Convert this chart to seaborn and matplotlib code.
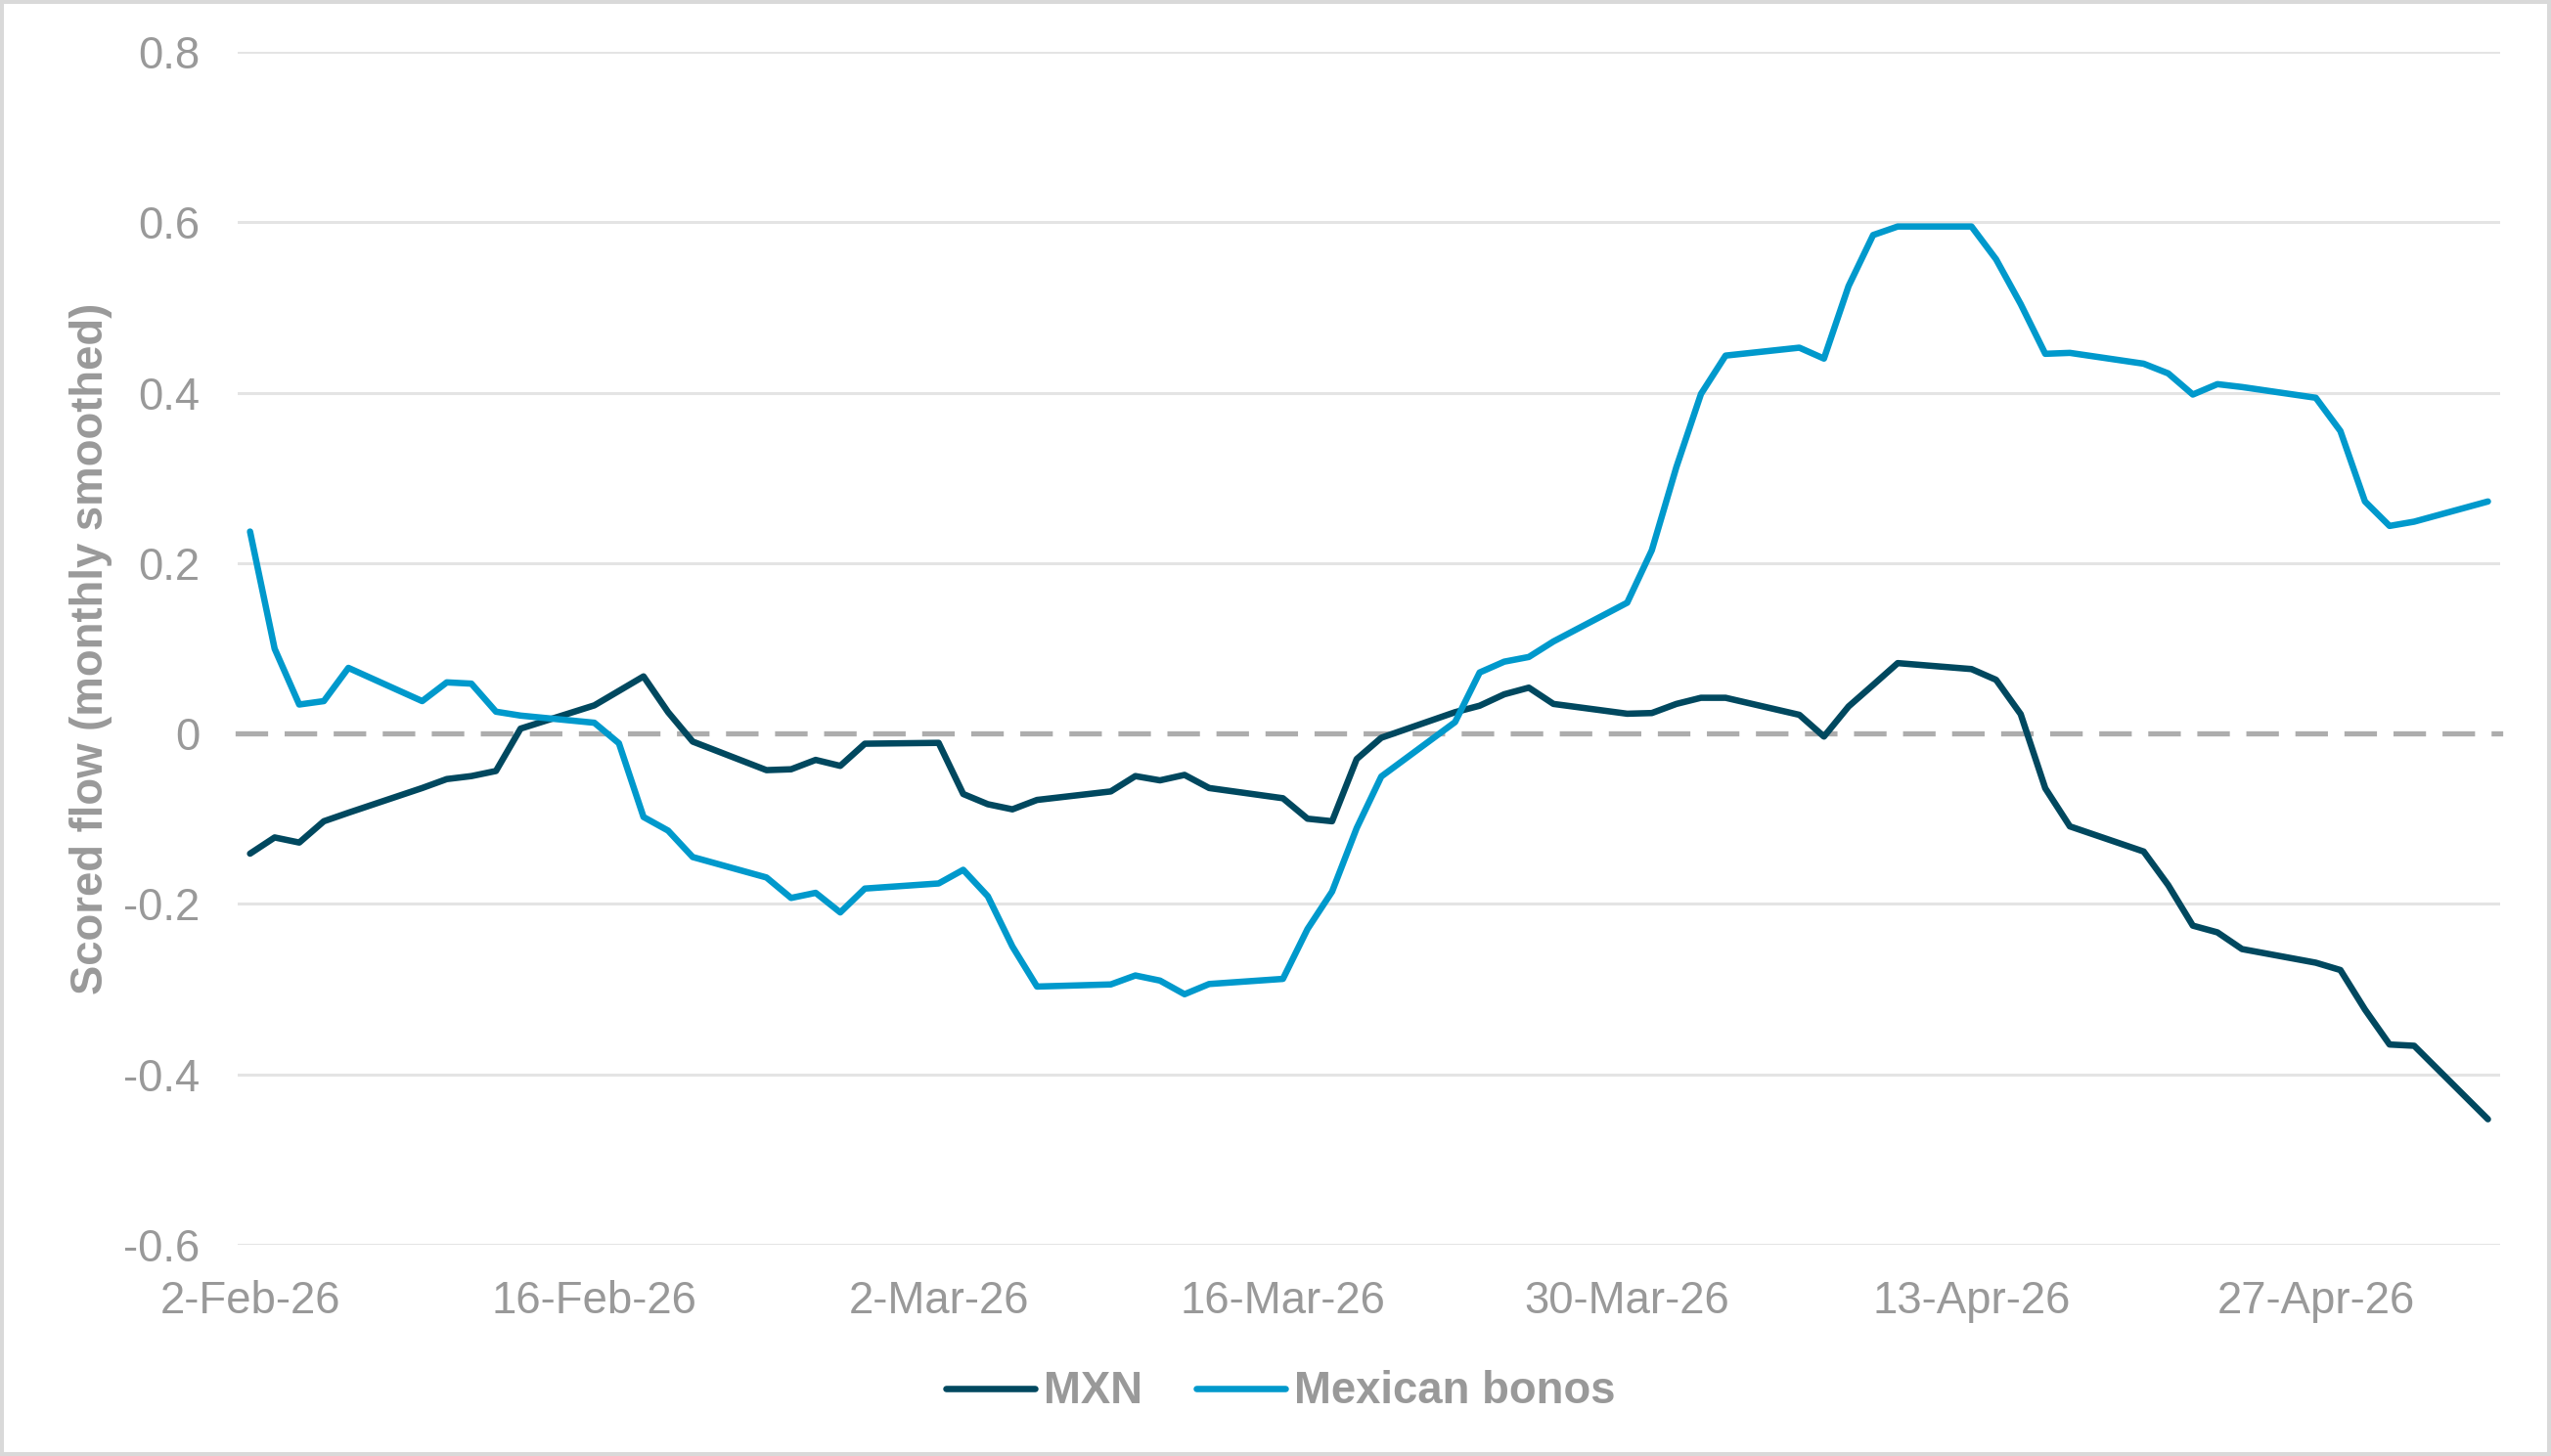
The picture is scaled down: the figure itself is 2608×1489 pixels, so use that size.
import numpy as np
import pandas as pd
import matplotlib
matplotlib.use("Agg")
import matplotlib.pyplot as plt
import matplotlib.dates as mdates
import seaborn as sns

# business days, 2-Feb-26 to 4-May-26
dates = pd.bdate_range("2026-02-02", "2026-05-04")

mxn = [
    -0.141, -0.122, -0.128, -0.103, -0.093,
    -0.064, -0.0535, -0.050, -0.044, 0.0057,
    0.033, 0.050, 0.067, 0.025, -0.0095,
    -0.043, -0.042, -0.031, -0.038, -0.012,
    -0.011, -0.071, -0.083, -0.089, -0.078,
    -0.068, -0.050, -0.055, -0.0486, -0.064,
    -0.076, -0.100, -0.103, -0.030, -0.005,
    0.025, 0.0326, 0.046, 0.0538, 0.0347,
    0.0232, 0.024, 0.0347, 0.0419, 0.0419,
    0.0219, -0.0036, 0.0317, 0.057, 0.0826,
    0.0756, 0.063, 0.0227, -0.0643, -0.109,
    -0.1385, -0.178, -0.2255, -0.2334, -0.253,
    -0.269, -0.2776, -0.324, -0.365, -0.3665,
    -0.4527,
]

bonos = [
    0.237, 0.0995, 0.034, 0.038, 0.077,
    0.038, 0.060, 0.0585, 0.0256, 0.021,
    0.0126, -0.0115, -0.098, -0.114, -0.145,
    -0.169, -0.193, -0.187, -0.210, -0.182,
    -0.176, -0.160, -0.191, -0.250, -0.297,
    -0.2945, -0.284, -0.290, -0.306, -0.294,
    -0.288, -0.2295, -0.1855, -0.111, -0.0505,
    0.0134, 0.0716, 0.0843, 0.0898, 0.108,
    0.1535, 0.215, 0.3127, 0.3985, 0.4435,
    0.4528, 0.440, 0.525, 0.585, 0.595,
    0.595, 0.5565, 0.504, 0.4456, 0.4467,
    0.434, 0.4226, 0.3978, 0.410, 0.4066,
    0.394, 0.355, 0.2723, 0.2436, 0.2486,
    0.2723,
]
assert len(dates) == len(mxn) == len(bonos)

tick_dates = pd.to_datetime(["2026-02-02", "2026-02-16", "2026-03-02", "2026-03-16",
                             "2026-03-30", "2026-04-13", "2026-04-27"])
tick_labels = ["2-Feb-26", "16-Feb-26", "2-Mar-26", "16-Mar-26",
               "30-Mar-26", "13-Apr-26", "27-Apr-26"]
y_ticks = [0.8, 0.6, 0.4, 0.2, 0, -0.2, -0.4, -0.6]
y_labels = ["0.8", "0.6", "0.4", "0.2", "0", "-0.2", "-0.4", "-0.6"]

DARK = "#00485F"
LIGHT = "#0099CC"
GREY = "#999999"

sns.set_theme(style="white")
plt.rcParams["font.family"] = ["Liberation Sans", "DejaVu Sans"]
FS = 16.4

fig, ax = plt.subplots(figsize=(13.04, 7.445), dpi=200)
fig.subplots_adjust(left=0.0932, right=0.9801, top=0.9644, bottom=0.1451)
fig.patch.set_edgecolor("#D9D9D9")
fig.patch.set_linewidth(2.2)

sns.lineplot(x=dates, y=mxn, ax=ax, color=DARK, lw=2.35, label="MXN",
             zorder=3, solid_capstyle="round")
sns.lineplot(x=dates, y=bonos, ax=ax, color=LIGHT, lw=2.35, label="Mexican bonos",
             zorder=3, solid_capstyle="round")

half = pd.Timedelta(hours=12)
ax.set_xlim(dates[0] - half, dates[-1] + half)
ax.set_ylim(-0.6, 0.8)
ax.set_xlabel("")

# y axis
ax.set_yticks(y_ticks)
ax.set_yticklabels(y_labels)
ax.tick_params(axis="y", length=0, pad=14, labelsize=FS, labelcolor=GREY)
ax.grid(axis="y", color="#E4E4E4", lw=1.1)
ax.grid(axis="x", visible=False)
for val, gl in zip(y_ticks, ax.get_ygridlines()):
    if val == 0:
        gl.set_visible(False)
ax.set_ylabel("Scored flow (monthly smoothed)", fontsize=FS, fontweight="bold",
              color=GREY, labelpad=4)

# dashed zero axis with tick marks between days
for s in ["top", "right", "left"]:
    ax.spines[s].set_visible(False)
ax.spines["bottom"].set_position(("data", 0))
ax.spines["bottom"].set_color("#ADADAD")
ax.spines["bottom"].set_linewidth(1.9)
ax.spines["bottom"].set_linestyle((0, (5.3, 4.2)))
ax.spines["bottom"].set_zorder(1)
ax.set_xticks(mdates.date2num(tick_dates - half))
ax.tick_params(axis="x", which="major", direction="out", length=4.5, width=1.9,
               color="#ADADAD", labelbottom=False)

# date labels at the bottom
sec = ax.secondary_xaxis("bottom")
sec.set_ticks(mdates.date2num(tick_dates), labels=tick_labels)
sec.tick_params(length=0, pad=13, labelsize=FS, labelcolor=GREY)
sec.spines["bottom"].set_visible(False)

handles, labels = ax.get_legend_handles_labels()
ax.get_legend().remove()
fig.legend(handles, labels, loc="center", bbox_to_anchor=(0.502, 0.044), ncol=2,
           frameon=False, handlelength=2.0, handletextpad=0.2, columnspacing=1.2,
           prop={"size": FS, "weight": "bold"}, labelcolor=GREY)

fig.savefig("out.png", dpi=200, edgecolor=fig.get_edgecolor())
